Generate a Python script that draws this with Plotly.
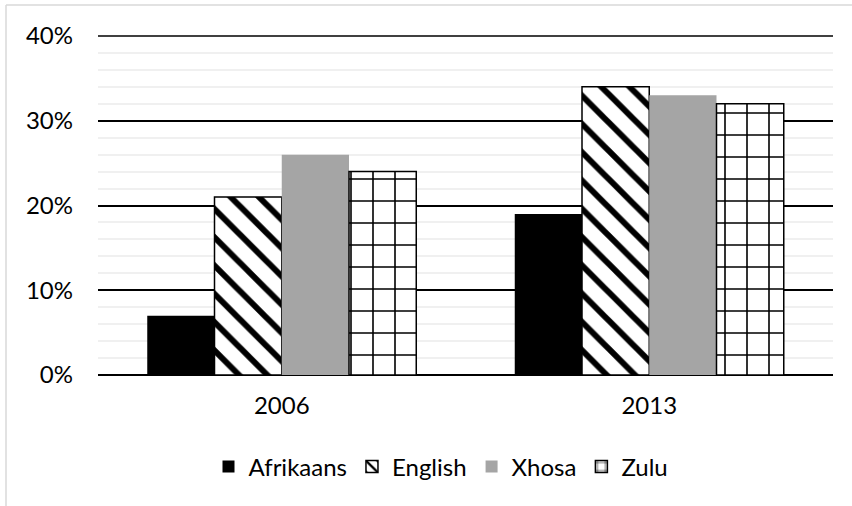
import plotly.graph_objects as go

years = ["2006", "2013"]
afrikaans = [7, 19]
english = [21, 34]
xhosa = [26, 33]
zulu = [24, 32]
y_ticks = [0, 10, 20, 30, 40]
y_tick_labels = ["0%", "10%", "20%", "30%", "40%"]

W, H = 852, 506
ML, MR, MT, MB = 98, 19, 36, 131
PW, PH = W - ML - MR, H - MT - MB

FONT = "Lato"

fig = go.Figure()
fig.add_trace(go.Bar(name="Afrikaans", x=years, y=afrikaans,
                     marker=dict(color="#000000", line=dict(width=0))))
fig.add_trace(go.Bar(name="English", x=years, y=english,
                     marker=dict(color="#ffffff", line=dict(color="#000000", width=1.5),
                                 pattern=dict(shape="\\", fgcolor="#000000", fgopacity=1,
                                              bgcolor="#ffffff",
                                              size=20, solidity=0.3, fillmode="replace"))))
fig.add_trace(go.Bar(name="Xhosa", x=years, y=xhosa,
                     marker=dict(color="#a5a5a5", line=dict(width=0))))
fig.add_trace(go.Bar(name="Zulu", x=years, y=zulu,
                     marker=dict(color="#ffffff", line=dict(color="#000000", width=1.5),
                                 pattern=dict(shape="+", fgcolor="#000000", fgopacity=1,
                                              bgcolor="#ffffff",
                                              size=22, solidity=0.14, fillmode="replace"))))

def px_x(px):
    return (px - ML) / PW

def px_y(py):
    return (H - MB - py) / PH

fig.update_layout(
    width=W, height=H,
    margin=dict(l=ML, r=MR, t=MT, b=MB, autoexpand=False),
    paper_bgcolor="#ffffff", plot_bgcolor="#ffffff",
    barmode="group", bargap=0.268, bargroupgap=0,
    font=dict(family=FONT, size=24, color="#000000"),
    showlegend=True,
    legend=dict(orientation="h", x=px_x(441), xanchor="center", y=px_y(467), yanchor="middle",
                font=dict(family=FONT, size=24, color="#000000"),
                itemwidth=30, traceorder="normal", tracegroupgap=0,
                bgcolor="rgba(0,0,0,0)"),
    xaxis=dict(showgrid=False, showline=False, zeroline=False, ticks="",
               tickfont=dict(family=FONT, size=24), ticklabelstandoff=14),
    yaxis=dict(range=[0, 40], tickvals=y_ticks, ticktext=y_tick_labels,
               showgrid=True, gridcolor="#000000", gridwidth=1.5,
               zeroline=True, zerolinecolor="#000000", zerolinewidth=1.5,
               showline=False, ticks="", ticklabelstandoff=24,
               tickfont=dict(family=FONT, size=24),
               minor=dict(dtick=2, showgrid=True, gridcolor="#f0f0f0", gridwidth=1.5),
               layer="below traces"),
    shapes=[
        # top major gridline (40%), drawn unclipped at the top of the plot area
        dict(type="line", xref="paper", yref="paper", layer="below",
             x0=0, x1=1, y0=1, y1=1,
             line=dict(color="#000000", width=1.5)),
        dict(type="line", xref="paper", yref="paper",
             x0=px_x(6), x1=px_x(W + 10), y0=px_y(5), y1=px_y(5),
             line=dict(color="#d9d9d9", width=1.5)),
        dict(type="line", xref="paper", yref="paper",
             x0=px_x(6), x1=px_x(6), y0=px_y(5), y1=px_y(H + 10),
             line=dict(color="#d9d9d9", width=1.5)),
    ],
)

fig.write_html("out.html", config={"displayModeBar": False},
               post_script="document.body.style.margin='0';document.body.style.overflow='hidden';")
